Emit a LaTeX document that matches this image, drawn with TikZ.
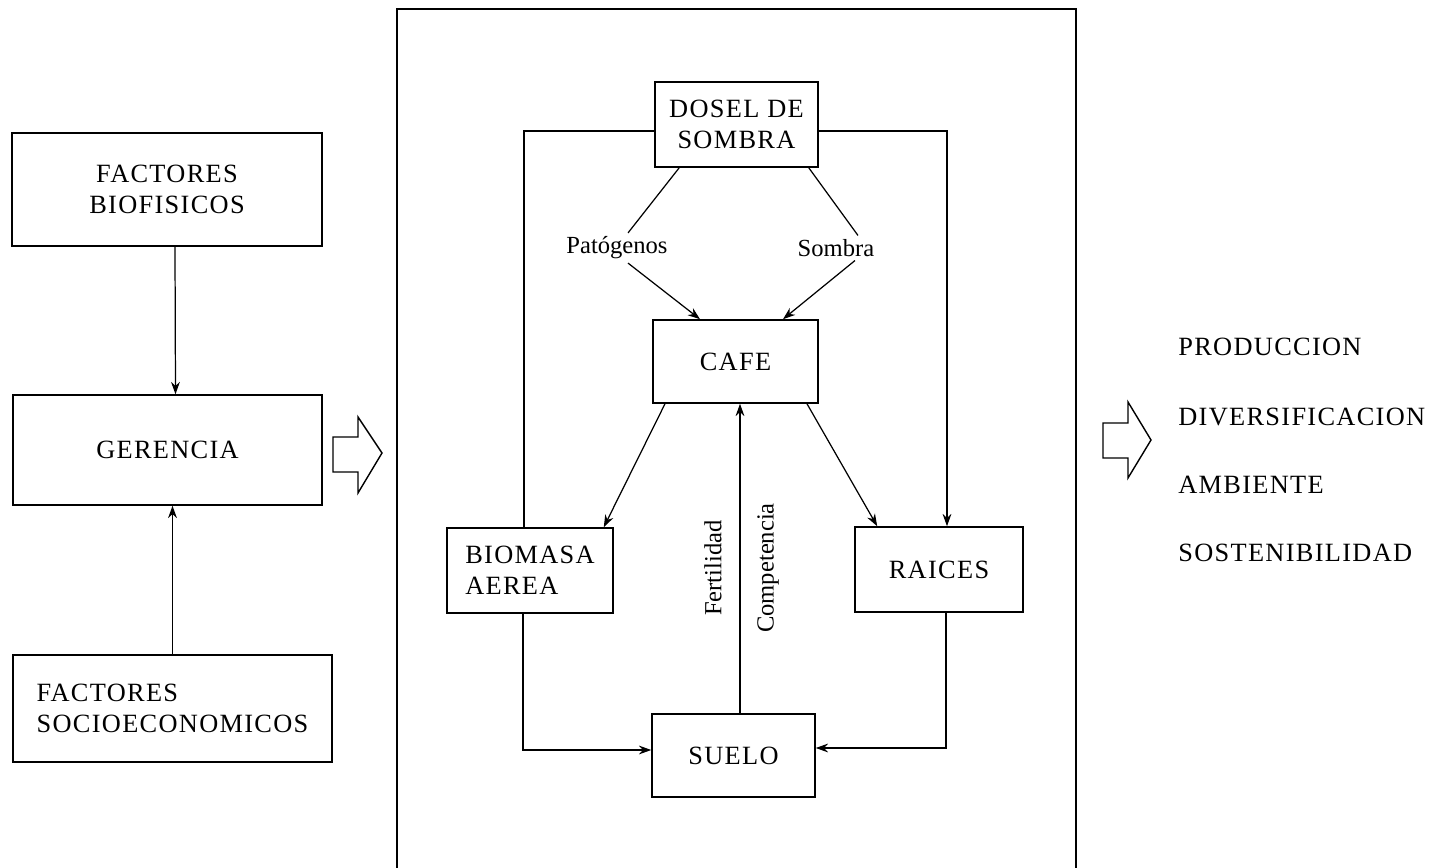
\documentclass[tikz,border=0pt]{standalone}
\usepackage{fontspec}
\usepackage{tikz}
\setmainfont{Liberation Serif}
\newfontfamily\espaciada{Liberation Serif}[LetterSpace=5]
\newcommand{\mayus}{\espaciada\fontsize{15}{17.5}\selectfont}
\newcommand{\etiq}{\fontsize{14}{17}\selectfont}
\usetikzlibrary{arrows.meta, calc}

\begin{document}
\begin{tikzpicture}[x=0.02cm, y=-0.02cm,
    caja/.style={draw, rectangle, line width=0.9pt, font=\mayus, align=center, inner sep=0pt},
    flecha/.style={line width=0.7pt, -{Stealth[length=7pt, width=5pt]}},
    linea/.style={line width=0.7pt},
    etiqueta/.style={font=\etiq, inner sep=2pt},
    resultado/.style={font=\mayus, anchor=west, inner sep=0pt},
    bloque/.style={line width=0.8pt}]
    \useasboundingbox (0,0) rectangle (1445,868);

    \node[caja, minimum width=6.2cm, minimum height=2.26cm] (biof) at (167,189.5) {FACTORES\\ BIOFISICOS};
    \node[caja, minimum width=6.18cm, minimum height=2.2cm] (geren) at (167.5,450) {GERENCIA};
    \node[caja, minimum width=6.38cm, minimum height=2.14cm, align=left] (socio) at (172.5,708.5) {FACTORES\\ SOCIOECONOMICOS};

    \draw[flecha] ([xshift=0.16cm]biof.south) -- ([xshift=0.16cm]geren.north);
    \draw[flecha] (socio.north) -- (socio.north |- geren.south);

    \draw[bloque] (333,437) -- (358,437) -- (358,417) -- (382,453) -- (358,493) -- (358,472) -- (333,472) -- cycle;

    \draw[line width=0.9pt] (397,868) -- (397,9) -- (1076,9) -- (1076,868);

    \node[caja, minimum width=3.26cm, minimum height=1.7cm] (dosel) at (736.5,124.5) {DOSEL DE\\ SOMBRA};
    \node[caja, minimum width=3.3cm, minimum height=1.66cm] (cafe) at (735.5,361.5) {CAFE};
    \node[caja, minimum width=3.32cm, minimum height=1.7cm, align=left] (biomasa) at (530,570.5) {BIOMASA\\ AEREA};
    \node[caja, minimum width=3.36cm, minimum height=1.7cm] (raices) at (939,569.5) {RAICES};
    \node[caja, minimum width=3.26cm, minimum height=1.66cm] (suelo) at (733.5,755.5) {SUELO};

    \node[etiqueta] (patog) at (617,248) {Patógenos};
    \node[etiqueta] (sombra) at (836,248) {Sombra};
    \node[etiqueta, rotate=90] (fert) at (713,568) {Fertilidad};
    \node[etiqueta, rotate=90] (comp) at (768,568) {Competencia};

    \draw[linea] ([xshift=0.5cm]dosel.south west) -- ([xshift=0.22cm]patog.north);
    \draw[flecha] ([xshift=0.22cm]patog.south) -- ([xshift=-0.71cm]cafe.north);
    \draw[linea] ([xshift=-0.2cm]dosel.south east) -- ([xshift=0.44cm]sombra.north);
    \draw[flecha] ([xshift=0.38cm]sombra.south) -- ([xshift=0.95cm]cafe.north);

    \draw[flecha] ([xshift=-1.41cm]cafe.south) -- ([xshift=-0.2cm]biomasa.north east);
    \draw[flecha] ([xshift=1.43cm]cafe.south) -- ([xshift=0.46cm]raices.north west);

    \draw[linea] ([yshift=-0.13cm]dosel.west) -| ([xshift=-0.12cm]biomasa.north);
    \draw[flecha] ([yshift=-0.13cm]dosel.east) -| ([xshift=0.16cm]raices.north);

    \draw[flecha] ([xshift=-0.14cm]biomasa.south) |- ([yshift=0.11cm]suelo.west);
    \draw[flecha] ([xshift=0.14cm]raices.south) |- ([yshift=0.15cm]suelo.east);

    \coordinate (fc) at ([xshift=0.13cm]suelo.north);
    \draw[flecha] (fc) -- (fc |- cafe.south);

    \draw[bloque] (1103,423) -- (1128,423) -- (1128,402) -- (1151,440) -- (1128,478) -- (1128,458) -- (1103,458) -- cycle;

    \node[resultado] (prod) at (1178,347) {PRODUCCION};
    \node[resultado] (divers) at (1178,417) {DIVERSIFICACION};
    \node[resultado] (ambiente) at (1178,485) {AMBIENTE};
    \node[resultado] (sosten) at (1178,553) {SOSTENIBILIDAD};
\end{tikzpicture}
\end{document}
